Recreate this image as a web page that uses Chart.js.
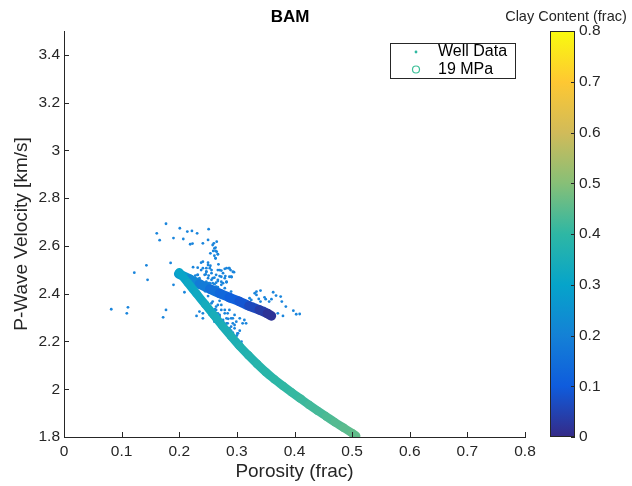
<!DOCTYPE html>
<html>
<head>
<meta charset="utf-8">
<title>BAM</title>
<script src="https://cdn.jsdelivr.net/npm/chart.js@4.4.1/dist/chart.umd.min.js"></script>
<style>
  html, body { margin: 0; padding: 0; background: #fff; }
</style>
</head>
<body>
<canvas id="chart" width="632" height="486"></canvas>
<script>
// Well log measurements
const wellPorosity = [
  0.177, 0.161, 0.166, 0.201, 0.190, 0.207, 0.214, 0.185, 0.143, 0.122, 0.145, 0.190, 0.209, 0.082, 0.111, 0.109, 0.177, 0.172,
  0.222, 0.231, 0.251, 0.219, 0.223, 0.241, 0.250, 0.265, 0.258, 0.261, 0.263, 0.254, 0.267, 0.263, 0.250, 0.268, 0.238, 0.224,
  0.232, 0.247, 0.254, 0.256, 0.247, 0.246, 0.251, 0.273, 0.279, 0.286, 0.289, 0.295, 0.270, 0.280, 0.291, 0.261, 0.256, 0.267,
  0.282, 0.250, 0.258, 0.276, 0.228, 0.235,
  0.247, 0.264, 0.273, 0.253, 0.267, 0.279, 0.256, 0.264, 0.273, 0.279, 0.267, 0.284, 0.290, 0.276, 0.282, 0.293, 0.296, 0.287,
  0.301, 0.302, 0.308, 0.235, 0.230, 0.241, 0.313, 0.316, 0.310, 0.325, 0.331, 0.334,
  0.341, 0.325, 0.329, 0.338, 0.341, 0.348, 0.350, 0.363, 0.368, 0.376, 0.360, 0.356, 0.378, 0.385, 0.338, 0.348, 0.356, 0.371,
  0.365, 0.380, 0.398, 0.403, 0.409,
  0.232, 0.241, 0.267, 0.273, 0.287, 0.264, 0.290, 0.267, 0.282, 0.258, 0.287, 0.296, 0.305, 0.322, 0.334, 0.247, 0.253, 0.241,
  0.261, 0.279, 0.293, 0.287,
  0.245, 0.260, 0.275, 0.250, 0.270, 0.262, 0.270, 0.285, 0.275, 0.290, 0.300, 0.305, 0.283,
  0.260, 0.263, 0.265, 0.261, 0.263, 0.267, 0.259, 0.241, 0.250, 0.253, 0.247, 0.256, 0.264, 0.270, 0.276, 0.282, 0.287, 0.279,
  0.267, 0.258, 0.250, 0.244, 0.273, 0.261, 0.282, 0.290, 0.293, 0.238, 0.232, 0.253,
  0.267, 0.273, 0.279, 0.270, 0.282, 0.276, 0.284, 0.290, 0.287, 0.296, 0.293, 0.264, 0.302, 0.299
];
const wellVelocity = [
  2.693, 2.653, 2.624, 2.674, 2.633, 2.629, 2.660, 2.529, 2.519, 2.488, 2.458, 2.437, 2.406, 2.335, 2.343, 2.318, 2.332, 2.301,
  2.663, 2.653, 2.670, 2.607, 2.610, 2.611, 2.625, 2.618, 2.604, 2.590, 2.579, 2.569, 2.566, 2.548, 2.530, 2.523, 2.530, 2.511,
  2.509, 2.507, 2.517, 2.499, 2.492, 2.481, 2.476, 2.497, 2.504, 2.507, 2.499, 2.490, 2.474, 2.474, 2.470, 2.467, 2.458, 2.453,
  2.450, 2.444, 2.444, 2.444, 2.476, 2.465,
  2.450, 2.446, 2.450, 2.430, 2.427, 2.423, 2.360, 2.346, 2.353, 2.332, 2.318, 2.318, 2.297, 2.290, 2.276, 2.276, 2.255, 2.255,
  2.234, 2.206, 2.199, 2.325, 2.307, 2.318, 2.290, 2.276, 2.276, 2.332, 2.402, 2.395,
  2.413, 2.374, 2.357, 2.378, 2.367, 2.385, 2.377, 2.406, 2.392, 2.388, 2.377, 2.367, 2.367, 2.346, 2.339, 2.339, 2.329, 2.318,
  2.311, 2.307, 2.329, 2.314, 2.315,
  2.479, 2.507, 2.499, 2.471, 2.471, 2.430, 2.409, 2.402, 2.381, 2.367, 2.332, 2.311, 2.297, 2.381, 2.409, 2.332, 2.311, 2.297,
  2.283, 2.269, 2.237, 2.220,
  2.410, 2.400, 2.385, 2.390, 2.370, 2.335, 2.305, 2.295, 2.260, 2.245, 2.225, 2.245, 2.235,
  2.611, 2.593, 2.576, 2.559, 2.548, 2.565, 2.579, 2.534, 2.520, 2.507, 2.492, 2.486, 2.479, 2.499, 2.486, 2.507, 2.507, 2.465,
  2.458, 2.465, 2.465, 2.479, 2.437, 2.440, 2.448, 2.471, 2.492, 2.499, 2.479, 2.444,
  2.353, 2.332, 2.318, 2.311, 2.297, 2.283, 2.276, 2.262, 2.248, 2.269, 2.297, 2.332, 2.234, 2.283
];

// 19 MPa model: branch towards clean sand (upper) and towards shale (lower)
const upperPorosity = [0.199, 0.218, 0.235, 0.253, 0.270, 0.287, 0.304, 0.321, 0.339, 0.353, 0.360];
const upperVelocity = [2.483, 2.462, 2.441, 2.420, 2.401, 2.384, 2.368, 2.349, 2.332, 2.317, 2.307];
const upperClay = [0.30, 0.24, 0.20, 0.17, 0.14, 0.12, 0.10, 0.075, 0.05, 0.025, 0.01];

const lowerPorosity = [0.200, 0.215, 0.230, 0.245, 0.260, 0.275, 0.290, 0.305, 0.320, 0.335, 0.350,
  0.365, 0.380, 0.395, 0.410, 0.425, 0.440, 0.455, 0.470, 0.485, 0.500, 0.507];
const lowerVelocity = [2.490, 2.445, 2.400, 2.355, 2.310, 2.265, 2.222, 2.180, 2.142, 2.106, 2.072,
  2.042, 2.014, 1.987, 1.961, 1.935, 1.910, 1.886, 1.862, 1.839, 1.816, 1.805];
const lowerClay = [0.30, 0.31, 0.32, 0.33, 0.34, 0.35, 0.355, 0.365, 0.37, 0.38, 0.385,
  0.39, 0.40, 0.405, 0.41, 0.42, 0.425, 0.43, 0.44, 0.445, 0.455, 0.46];

const porosityTicks = [0, 0.1, 0.2, 0.3, 0.4, 0.5, 0.6, 0.7, 0.8];
const velocityTicks = [1.8, 2, 2.2, 2.4, 2.6, 2.8, 3, 3.2, 3.4];
const clayTicks = [0, 0.1, 0.2, 0.3, 0.4, 0.5, 0.6, 0.7, 0.8];

const ink = '#262626';
const font = '"Liberation Sans", Arial, Helvetica, sans-serif';

// parula colormap
const parula = ['#352a87', '#0f5cdd', '#1481d6', '#06a4ca', '#2eb7a4', '#87bf77', '#d1bb59', '#fec832', '#f9fb0e'];
const parulaRgb = parula.map(h => [1, 3, 5].map(i => parseInt(h.slice(i, i + 2), 16)));

function clayColor(c) {
  const t = Math.min(Math.max(c / 0.8, 0), 1) * (parulaRgb.length - 1);
  const i = Math.min(Math.floor(t), parulaRgb.length - 2);
  const f = t - i;
  const a = parulaRgb[i], b = parulaRgb[i + 1];
  return 'rgb(' + a.map((v, k) => Math.round(v + (b[k] - v) * f)).join(',') + ')';
}

const toPoints = (xs, ys) => xs.map((x, i) => ({ x, y: ys[i] }));

function modelBranch(xs, ys, clay, width) {
  return {
    label: '19 MPa',
    data: toPoints(xs, ys),
    showLine: true,
    cubicInterpolationMode: 'monotone',
    borderWidth: width,
    borderColor: clayColor(clay[0]),
    borderCapStyle: 'round',
    borderJoinStyle: 'round',
    pointRadius: 0,
    order: 1,
    segment: {
      borderColor: ctx => clayColor((clay[ctx.p0DataIndex] + clay[ctx.p1DataIndex]) / 2),
    },
  };
}

const fixedTicks = values => scale => { scale.ticks = values.map(v => ({ value: v })); };

const decorations = {
  id: 'decorations',
  afterDraw(chart) {
    const { ctx, scales: { x, y, c } } = chart;
    ctx.save();

    // inward tick marks
    ctx.strokeStyle = ink;
    ctx.lineWidth = 1;
    ctx.beginPath();
    x.ticks.forEach(t => {
      const px = Math.round(x.getPixelForValue(t.value)) + 0.5;
      ctx.moveTo(px, y.bottom);
      ctx.lineTo(px, y.bottom - 5);
    });
    y.ticks.forEach(t => {
      const py = Math.round(y.getPixelForValue(t.value)) + 0.5;
      ctx.moveTo(x.left, py);
      ctx.lineTo(x.left + 5, py);
    });
    ctx.stroke();

    // colorbar
    const cbLeft = 550, cbWidth = 25;
    const top = c.getPixelForValue(0.8), bottom = c.getPixelForValue(0);
    const grad = ctx.createLinearGradient(0, bottom, 0, top);
    parula.forEach((col, i) => grad.addColorStop(i / (parula.length - 1), col));
    ctx.fillStyle = grad;
    ctx.fillRect(cbLeft, top, cbWidth, bottom - top);
    ctx.strokeRect(cbLeft + 0.5, Math.round(top) + 0.5, cbWidth - 1, Math.round(bottom - top) - 1);
    ctx.beginPath();
    c.ticks.forEach(t => {
      const py = Math.round(c.getPixelForValue(t.value)) + 0.5;
      ctx.moveTo(cbLeft + cbWidth, py);
      ctx.lineTo(cbLeft + cbWidth - 4, py);
    });
    ctx.stroke();

    // titles
    ctx.fillStyle = '#000';
    ctx.textBaseline = 'middle';
    ctx.textAlign = 'center';
    ctx.font = 'bold 17px ' + font;
    ctx.fillText('BAM', 290, 17);
    ctx.fillStyle = ink;
    ctx.font = '14.5px ' + font;
    ctx.fillText('Clay Content (frac)', 566, 17);

    // legend
    ctx.fillStyle = '#fff';
    ctx.fillRect(390, 43, 126, 36);
    ctx.strokeStyle = ink;
    ctx.strokeRect(390.5, 43.5, 125, 35);
    ctx.fillStyle = '#2fb8a0';
    ctx.beginPath();
    ctx.arc(416, 52, 1.4, 0, Math.PI * 2);
    ctx.fill();
    ctx.strokeStyle = '#3dbf98';
    ctx.lineWidth = 1.2;
    ctx.beginPath();
    ctx.arc(416, 69.5, 3.5, 0, Math.PI * 2);
    ctx.stroke();
    ctx.fillStyle = '#000';
    ctx.textAlign = 'left';
    ctx.font = '16px ' + font;
    ctx.fillText('Well Data', 438, 52);
    ctx.fillText('19 MPa', 438, 69.5);

    ctx.restore();
  },
};

const tickFont = { family: font, size: 15.5 };
const titleFont = { family: font, size: 19 };

// vertical axes: drop label overflow padding so the plot keeps its size
const noEndPadding = s => { s.paddingTop = 0; s.paddingBottom = 0; };

new Chart(document.getElementById('chart'), {
  type: 'scatter',
  data: {
    datasets: [
      modelBranch(lowerPorosity, lowerVelocity, lowerClay, 8.5),
      modelBranch(upperPorosity, upperVelocity, upperClay, 9.5),
      {
        label: 'Well Data',
        data: toPoints(wellPorosity, wellVelocity),
        backgroundColor: '#1a85dc',
        pointRadius: 1.4,
        pointBorderWidth: 0,
        order: 2,
      },
    ],
  },
  options: {
    responsive: false,
    animation: false,
    events: [],
    layout: { padding: { top: 31 } },
    plugins: {
      legend: { display: false },
      tooltip: { enabled: false },
    },
    scales: {
      x: {
        type: 'linear',
        min: 0,
        max: 0.8,
        afterBuildTicks: fixedTicks(porosityTicks),
        afterFit: s => { s.height = 49; s.paddingLeft = 0; s.paddingRight = 0; },
        grid: { display: false, drawTicks: false },
        border: { color: ink },
        ticks: { font: tickFont, color: ink, padding: 5, maxRotation: 0, callback: v => String(v) },
        title: { display: true, text: 'Porosity (frac)', font: titleFont, color: ink, padding: { top: 0, bottom: 3 } },
      },
      y: {
        type: 'linear',
        min: 1.8,
        max: 3.5,
        afterBuildTicks: fixedTicks(velocityTicks),
        afterFit: s => { s.width = 64; noEndPadding(s); },
        grid: { display: false, drawTicks: false },
        border: { color: ink },
        ticks: { font: tickFont, color: ink, padding: 4, callback: v => String(v) },
        title: { display: true, text: 'P-Wave Velocity [km/s]', font: titleFont, color: ink, padding: { top: 10, bottom: 0 } },
      },
      c: {
        type: 'linear',
        position: 'right',
        min: 0,
        max: 0.8,
        afterBuildTicks: fixedTicks(clayTicks),
        afterFit: s => { s.width = 107; noEndPadding(s); },
        grid: { display: false, drawTicks: false },
        border: { display: false },
        ticks: { font: tickFont, color: ink, padding: 54, callback: v => String(v) },
      },
    },
  },
  plugins: [decorations],
});
</script>
</body>
</html>
